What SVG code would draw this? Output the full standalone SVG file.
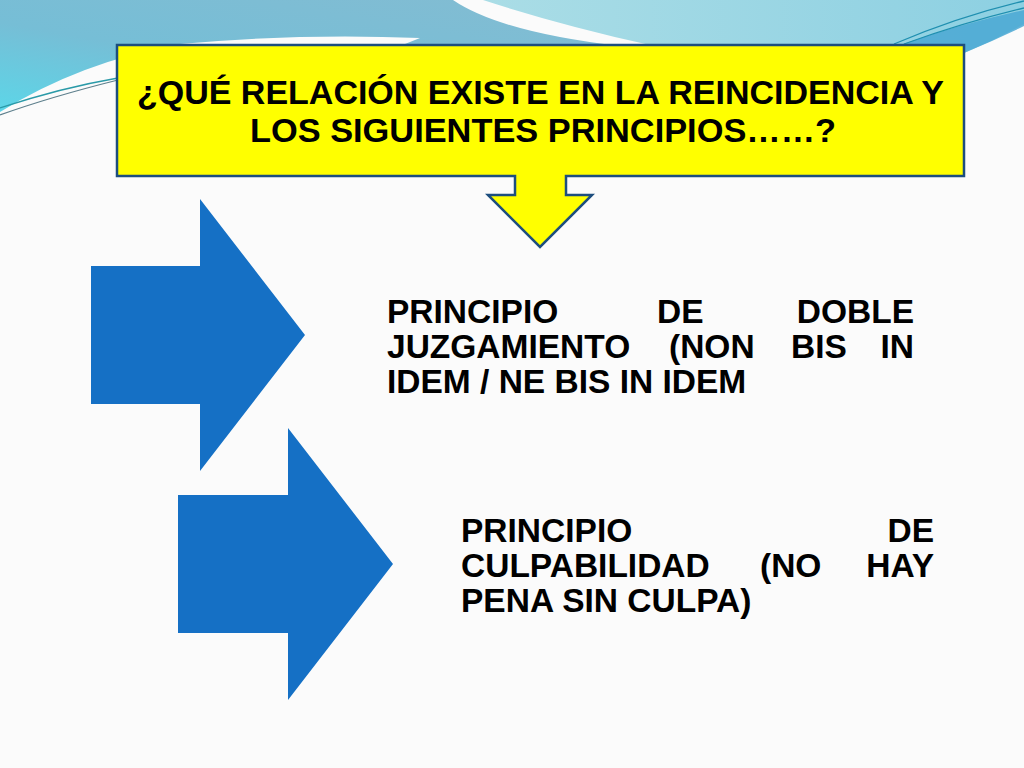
<svg xmlns="http://www.w3.org/2000/svg" width="1024" height="768" viewBox="0 0 1024 768">
<defs>
<linearGradient id="gL" x1="1" y1="0" x2="0" y2="1">
<stop offset="0" stop-color="#84bcd2"/>
<stop offset="0.6" stop-color="#76bed6"/>
<stop offset="1" stop-color="#5cd6e8"/>
</linearGradient>
<linearGradient id="gR" x1="0" y1="0" x2="1" y2="0">
<stop offset="0" stop-color="#aadde6"/>
<stop offset="1" stop-color="#8dd0e2"/>
</linearGradient>
<style>
.t{font-family:"Liberation Sans",Arial,sans-serif;font-weight:bold;fill:#000;}
.title{font-size:34px;}
.body{font-size:33.5px;}
.arrow{fill:#1570c5;}
.callout{fill:#ffff00;stroke:#1d4e7e;stroke-width:2.5;stroke-linejoin:miter;}
</style>
</defs>
<rect x="0" y="0" width="1024" height="768" fill="#fbfbfb"/>
<g id="background-top">
<path d="M0,0 H453 Q500,32 620,46 L400,46 L420,38 Q300,33 180,44 Q80,62 0,112 Z" fill="url(#gL)"/>
<path d="M483,0 H1024 V24 Q995,40 964,53 V45 H650 Q560,25 483,0 Z" fill="url(#gR)"/>
<path d="M900,45 Q960,24 1024,10 V26 Q995,40 964,53 V45 Z" fill="#4aa8d4" opacity="0.85"/>
<path d="M894,44 Q960,16 1024,1" fill="none" stroke="#1f8fb0" stroke-width="1.3"/>
<path d="M904,44 Q965,22 1024,8" fill="none" stroke="#1f8fb0" stroke-width="1.3"/>
<path d="M0,108 Q60,88 118,78" fill="none" stroke="#2a9aa8" stroke-width="1.3"/>
<path d="M0,115 Q50,97 118,80" fill="none" stroke="#5d7f8c" stroke-width="1.2"/>
</g>
<g id="question">
<path class="callout" d="M117,45 H964 V176 H566 V195 H592 L540,247 L488,195 H515 V176 H117 Z"/>
<text class="t title" x="137" y="104" textLength="807" lengthAdjust="spacingAndGlyphs">¿QUÉ RELACIÓN EXISTE EN LA REINCIDENCIA Y</text>
<text class="t title" x="250" y="142" textLength="586" lengthAdjust="spacingAndGlyphs">LOS SIGUIENTES PRINCIPIOS……?</text>
</g>
<g id="arrow1">
<path class="arrow" d="M91,266 H200 V199 L305,335 L200,471 V404 H91 Z"/>
</g>
<g id="arrow2">
<path class="arrow" d="M178,495 H288 V428 L393,564 L288,700 V633 H178 Z"/>
</g>
<g id="principio1">
<text class="t body" x="387" y="323">PRINCIPIO</text>
<text class="t body" x="657" y="323">DE</text>
<text class="t body" x="914" y="323" text-anchor="end">DOBLE</text>
<text class="t body" x="387" y="358">JUZGAMIENTO</text>
<text class="t body" x="669" y="358">(NON</text>
<text class="t body" x="791" y="358">BIS</text>
<text class="t body" x="914" y="358" text-anchor="end">IN</text>
<text class="t body" x="387" y="393">IDEM / NE BIS IN IDEM</text>
</g>
<g id="principio2">
<text class="t body" x="461" y="542">PRINCIPIO</text>
<text class="t body" x="934" y="542" text-anchor="end">DE</text>
<text class="t body" x="461" y="577">CULPABILIDAD</text>
<text class="t body" x="760" y="577">(NO</text>
<text class="t body" x="934" y="577" text-anchor="end">HAY</text>
<text class="t body" x="461" y="612">PENA SIN CULPA)</text>
</g>
<g id="connectors"></g>
</svg>
